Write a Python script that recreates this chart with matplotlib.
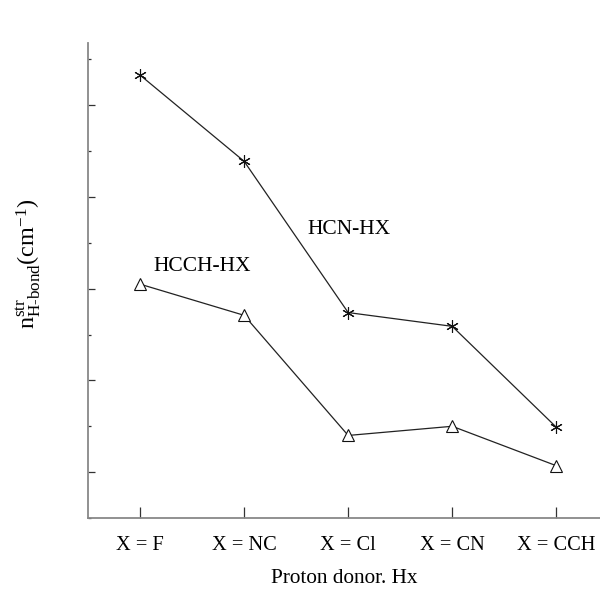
import matplotlib
matplotlib.use("Agg")
import matplotlib.pyplot as plt
from matplotlib.ticker import MultipleLocator, NullFormatter

plt.rcParams['font.family'] = ['Liberation Serif', 'DejaVu Serif']
plt.rcParams['mathtext.fontset'] = 'custom'
plt.rcParams['mathtext.rm'] = 'Liberation Serif'
plt.rcParams['mathtext.it'] = 'Liberation Serif:italic'

donors = ['X = F', 'X = NC', 'X = Cl', 'X = CN', 'X = CCH']
hcn_hx = [5.33, 4.39, 2.74, 2.59, 1.49]
hcch_hx = [3.05, 2.71, 1.40, 1.50, 1.07]

x = list(range(1, len(donors) + 1))

fig = plt.figure(figsize=(6.0, 5.96), dpi=100)
ax = fig.add_axes([0.1467, 0.1309, 0.8533, 0.797])

ax.plot(x, hcn_hx, color='#222222', lw=0.9, marker=(6, 2, 0), ms=9,
        mec='#111111', mew=0.8)
ax.plot(x, hcch_hx, color='#222222', lw=0.9, marker='^', ms=8,
        mfc='white', mec='#111111', mew=0.8)

ax.text(3.01, 3.65, 'HCN-HX', fontsize=15.5, ha='center', va='center')
ax.text(1.6, 3.24, 'HCCH-HX', fontsize=15.5, ha='center', va='center')

ax.set_xlim(0.5, 5.42)
ax.set_ylim(0.5, 5.68)
ax.set_xticks(x)
ax.set_xticklabels(donors, fontsize=14.7)
ax.yaxis.set_major_locator(MultipleLocator(1))
ax.yaxis.set_minor_locator(MultipleLocator(0.5))
ax.yaxis.set_major_formatter(NullFormatter())

for s in ['top', 'right']:
    ax.spines[s].set_visible(False)
for s in ['left', 'bottom']:
    ax.spines[s].set_color('#888888')
    ax.spines[s].set_linewidth(1.3)

ax.tick_params(axis='y', which='major', direction='in', length=5, width=0.9, color='#333333')
ax.tick_params(axis='y', which='minor', direction='in', length=2.5, width=0.9, color='#333333')
ax.tick_params(axis='x', which='major', direction='in', length=8, width=0.9,
               color='#333333', pad=13)

ax.set_xlabel('Proton donor. Hx', fontsize=15.3, labelpad=10)
ax.set_ylabel('n$^{\\mathrm{str}}_{\\mathrm{H\u2010bond}}$(cm$^{-1}$)', fontsize=17.5)
ax.yaxis.set_label_coords(-0.088, 0.535)

fig.savefig('out.png', dpi=100)
